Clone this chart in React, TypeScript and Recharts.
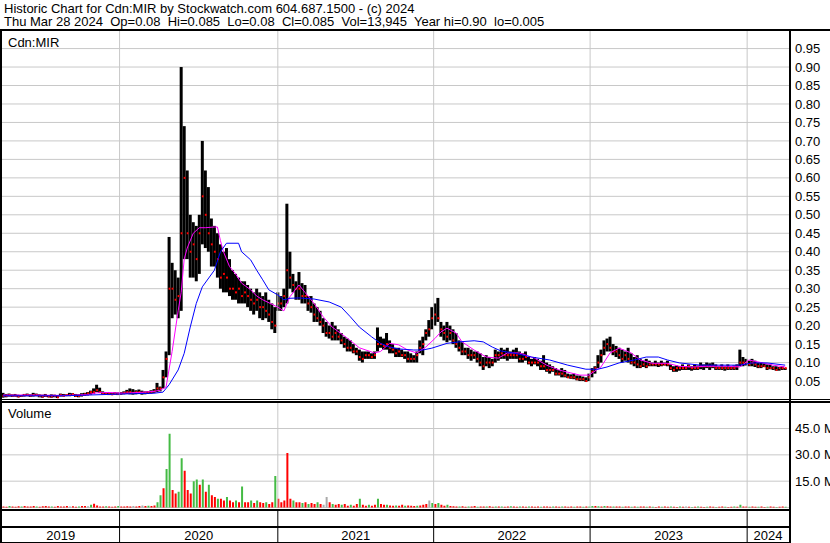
import React from 'react';
import { ComposedChart, Bar, Line, XAxis, YAxis, CartesianGrid, ReferenceLine, Cell } from 'recharts';

const FONT = 'Arial, "Liberation Sans", sans-serif';
const GRID = '#c8c8c8';
const GREEN = '#44bb44';
const RED = '#ff0000';
const GRAY = '#aaaaaa';

// x axis runs in weeks from the first bar (early Apr 2019) to Mar 28 2024
const years = ['2019', '2020', '2021', '2022', '2023', '2024'];
const yearStarts = [38.6, 91, 142.6, 194.4, 246.4];
const weekDomain: [number, number] = [-0.33, 260.26];
const yearEdges = [weekDomain[0], ...yearStarts, weekDomain[1]];
const yearMids = years.map((_, i) => (yearEdges[i] + yearEdges[i + 1]) / 2);

const priceTicks = [0.05, 0.1, 0.15, 0.2, 0.25, 0.3, 0.35, 0.4, 0.45, 0.5, 0.55, 0.6, 0.65, 0.7, 0.75, 0.8, 0.85, 0.9, 0.95];
const volumeTicks = [15, 30, 45];

// weekly high / low / close
const high = [
  0.018, 0.015, 0.016, 0.014, 0.015, 0.013, 0.012, 0.015, 0.016, 0.014,
  0.018, 0.016, 0.014, 0.013, 0.015, 0.012, 0.014, 0.013, 0.012, 0.016,
  0.015, 0.014, 0.018, 0.017, 0.015, 0.014, 0.017, 0.018, 0.02, 0.024,
  0.03, 0.04, 0.032, 0.022, 0.02, 0.019, 0.018, 0.02, 0.019, 0.02,
  0.022, 0.026, 0.03, 0.028, 0.025, 0.027, 0.024, 0.022, 0.023, 0.025,
  0.028, 0.045, 0.035, 0.08, 0.13, 0.44, 0.37, 0.35, 0.33, 0.9,
  0.74, 0.62, 0.5, 0.48, 0.47, 0.5, 0.7, 0.62, 0.575, 0.49,
  0.47, 0.45, 0.42, 0.4, 0.41, 0.38, 0.35, 0.34, 0.33, 0.32,
  0.32, 0.31, 0.3, 0.29, 0.3, 0.29, 0.28, 0.29, 0.27, 0.26,
  0.25, 0.29, 0.28, 0.3, 0.53, 0.4, 0.34, 0.32, 0.345, 0.315,
  0.31, 0.28, 0.28, 0.26, 0.25, 0.24, 0.22, 0.21, 0.2, 0.21,
  0.2, 0.19, 0.18, 0.17, 0.165, 0.16, 0.15, 0.14, 0.135, 0.13,
  0.13, 0.13, 0.125, 0.13, 0.195, 0.17, 0.165, 0.18, 0.16, 0.15,
  0.14, 0.14, 0.135, 0.13, 0.13, 0.125, 0.12, 0.13, 0.16, 0.17,
  0.19, 0.215, 0.25, 0.26, 0.275, 0.21, 0.2, 0.21, 0.2, 0.19,
  0.18, 0.16, 0.155, 0.14, 0.14, 0.135, 0.13, 0.13, 0.125, 0.115,
  0.12, 0.115, 0.11, 0.135, 0.13, 0.14, 0.135, 0.14, 0.13, 0.135,
  0.14, 0.13, 0.125, 0.13, 0.115, 0.11, 0.115, 0.11, 0.105, 0.12,
  0.1, 0.095, 0.09, 0.085, 0.08, 0.085, 0.08, 0.07, 0.068, 0.07,
  0.065, 0.065, 0.062, 0.06, 0.07, 0.085, 0.09, 0.12, 0.135, 0.16,
  0.165, 0.17, 0.15, 0.145, 0.14, 0.135, 0.13, 0.14, 0.125, 0.115,
  0.12, 0.11, 0.105, 0.11, 0.105, 0.1, 0.105, 0.1, 0.105, 0.1,
  0.105, 0.095, 0.09, 0.092, 0.09, 0.095, 0.09, 0.095, 0.09, 0.095,
  0.092, 0.1, 0.095, 0.1, 0.098, 0.1, 0.095, 0.09, 0.095, 0.09,
  0.095, 0.09, 0.092, 0.095, 0.135, 0.115, 0.11, 0.105, 0.11, 0.105,
  0.1, 0.1, 0.098, 0.095, 0.095, 0.09, 0.09, 0.088, 0.09, 0.085,
];

const low = [
  0.005, 0.006, 0.008, 0.007, 0.008, 0.006, 0.007, 0.008, 0.009, 0.007,
  0.008, 0.009, 0.006, 0.005, 0.007, 0.006, 0.005, 0.006, 0.004, 0.008,
  0.008, 0.009, 0.009, 0.01, 0.007, 0.006, 0.008, 0.01, 0.011, 0.013,
  0.015, 0.02, 0.018, 0.014, 0.013, 0.012, 0.012, 0.013, 0.012, 0.013,
  0.014, 0.015, 0.014, 0.013, 0.014, 0.015, 0.013, 0.014, 0.015, 0.016,
  0.018, 0.02, 0.022, 0.03, 0.06, 0.12, 0.22, 0.23, 0.22, 0.24,
  0.38, 0.38, 0.33, 0.33, 0.32, 0.34, 0.42, 0.41, 0.4, 0.36,
  0.36, 0.33, 0.3, 0.29, 0.29, 0.28, 0.27, 0.27, 0.26, 0.26,
  0.26, 0.25, 0.24, 0.23, 0.24, 0.22, 0.215, 0.22, 0.21, 0.19,
  0.18, 0.24, 0.24, 0.25, 0.26, 0.3, 0.29, 0.27, 0.27, 0.26,
  0.26, 0.24, 0.235, 0.21, 0.21, 0.2, 0.18, 0.17, 0.165, 0.16,
  0.16, 0.16, 0.15, 0.14, 0.13, 0.13, 0.125, 0.12, 0.105, 0.1,
  0.11, 0.11, 0.11, 0.11, 0.13, 0.14, 0.135, 0.135, 0.125, 0.125,
  0.115, 0.115, 0.115, 0.11, 0.1, 0.1, 0.1, 0.1, 0.125, 0.12,
  0.16, 0.17, 0.19, 0.2, 0.21, 0.17, 0.16, 0.155, 0.16, 0.15,
  0.14, 0.13, 0.12, 0.12, 0.11, 0.105, 0.11, 0.1, 0.09, 0.08,
  0.09, 0.085, 0.09, 0.1, 0.105, 0.11, 0.11, 0.105, 0.11, 0.11,
  0.11, 0.1, 0.1, 0.105, 0.095, 0.09, 0.095, 0.09, 0.08, 0.08,
  0.075, 0.07, 0.075, 0.065, 0.065, 0.06, 0.06, 0.058, 0.056, 0.055,
  0.052, 0.05, 0.05, 0.048, 0.05, 0.06, 0.07, 0.085, 0.1, 0.12,
  0.13, 0.13, 0.12, 0.115, 0.11, 0.1, 0.105, 0.1, 0.095, 0.09,
  0.085, 0.085, 0.088, 0.085, 0.09, 0.09, 0.09, 0.088, 0.09, 0.092,
  0.09, 0.08, 0.075, 0.075, 0.078, 0.08, 0.08, 0.08, 0.078, 0.08,
  0.08, 0.082, 0.08, 0.085, 0.08, 0.085, 0.08, 0.08, 0.08, 0.078,
  0.08, 0.08, 0.08, 0.08, 0.09, 0.09, 0.092, 0.09, 0.09, 0.088,
  0.085, 0.085, 0.088, 0.08, 0.082, 0.08, 0.078, 0.078, 0.08, 0.08,
];

const close = [
  0.01, 0.01, 0.012, 0.01, 0.01, 0.008, 0.01, 0.012, 0.012, 0.01,
  0.012, 0.012, 0.01, 0.008, 0.01, 0.008, 0.008, 0.01, 0.006, 0.012,
  0.01, 0.012, 0.012, 0.014, 0.01, 0.01, 0.012, 0.014, 0.016, 0.02,
  0.02, 0.025, 0.02, 0.016, 0.015, 0.015, 0.014, 0.016, 0.015, 0.016,
  0.018, 0.02, 0.02, 0.018, 0.02, 0.02, 0.018, 0.018, 0.02, 0.02,
  0.022, 0.03, 0.03, 0.06, 0.11, 0.3, 0.3, 0.27, 0.28, 0.45,
  0.6, 0.45, 0.4, 0.42, 0.38, 0.45, 0.55, 0.5, 0.45, 0.42,
  0.4, 0.38, 0.33, 0.34, 0.33, 0.3, 0.3, 0.29, 0.3, 0.28,
  0.29, 0.28, 0.27, 0.26, 0.27, 0.25, 0.25, 0.24, 0.23, 0.21,
  0.2, 0.26, 0.26, 0.28, 0.35, 0.33, 0.31, 0.3, 0.3, 0.28,
  0.28, 0.26, 0.25, 0.23, 0.22, 0.21, 0.2, 0.18, 0.18, 0.17,
  0.18, 0.17, 0.16, 0.15, 0.14, 0.14, 0.13, 0.13, 0.115, 0.11,
  0.12, 0.12, 0.115, 0.12, 0.15, 0.15, 0.145, 0.15, 0.14, 0.135,
  0.125, 0.13, 0.12, 0.12, 0.11, 0.11, 0.11, 0.12, 0.14, 0.15,
  0.18, 0.19, 0.22, 0.23, 0.22, 0.19, 0.18, 0.17, 0.18, 0.16,
  0.15, 0.14, 0.13, 0.13, 0.12, 0.12, 0.12, 0.11, 0.1, 0.09,
  0.1, 0.1, 0.1, 0.12, 0.12, 0.125, 0.12, 0.12, 0.12, 0.12,
  0.12, 0.11, 0.11, 0.115, 0.1, 0.1, 0.1, 0.1, 0.09, 0.09,
  0.08, 0.08, 0.08, 0.07, 0.07, 0.07, 0.065, 0.06, 0.06, 0.06,
  0.055, 0.055, 0.055, 0.05, 0.06, 0.075, 0.085, 0.1, 0.12, 0.14,
  0.15, 0.14, 0.13, 0.13, 0.12, 0.11, 0.12, 0.11, 0.1, 0.1,
  0.095, 0.09, 0.095, 0.09, 0.095, 0.095, 0.095, 0.095, 0.095, 0.095,
  0.095, 0.085, 0.08, 0.085, 0.085, 0.085, 0.085, 0.09, 0.085, 0.085,
  0.085, 0.09, 0.09, 0.09, 0.09, 0.09, 0.085, 0.085, 0.085, 0.085,
  0.085, 0.085, 0.085, 0.09, 0.1, 0.1, 0.1, 0.095, 0.1, 0.095,
  0.09, 0.09, 0.09, 0.085, 0.085, 0.085, 0.08, 0.085, 0.085, 0.085,
];

// peak daily volume in each week, millions
const volume = [
  0.6, 0.4, 0.8, 0.5, 0.4, 0.7, 0.5, 0.9, 0.6, 0.5,
  0.8, 0.6, 0.4, 0.7, 0.9, 0.5, 0.6, 0.4, 0.8, 0.5,
  0.6, 0.9, 0.5, 0.7, 0.4, 0.6, 0.8, 0.9, 0.7, 1.5,
  2.2, 1.2, 0.6, 0.5, 0.7, 0.5, 0.4, 0.6, 0.8, 0.5,
  0.6, 0.7, 0.5, 0.9, 0.6, 0.8, 1.2, 0.9, 1.0, 0.8,
  1.2, 3, 7, 11, 22, 42, 10, 8, 9, 28,
  21, 10, 8, 15, 16, 13, 16, 9, 13, 7,
  6, 5, 5, 4, 6, 4, 3, 4, 3, 12,
  3, 3, 4, 2.5, 4, 3, 2.5, 3, 2, 3,
  18, 5, 3, 4, 31, 5, 4, 3, 3, 2.5,
  3, 2, 2.5, 2, 3, 2, 1.5, 6, 3, 2,
  1.5, 2, 1.5, 2, 1, 1.5, 1, 2, 5, 1.5,
  1, 1.5, 1, 1.5, 5, 2, 1.5, 1.5, 1.2, 1,
  1.2, 1, 1.5, 1, 1.2, 1, 0.8, 1, 1.2, 1.5,
  2, 4, 2.5, 2, 2.5, 1.5, 1, 1.5, 0.8, 0.7,
  0.6, 0.5, 0.7, 0.4, 0.6, 0.5, 0.8, 0.4, 0.5, 0.6,
  0.5, 0.7, 0.4, 0.6, 0.5, 0.6, 0.4, 0.5, 0.7, 0.5,
  0.4, 0.6, 0.5, 0.4, 0.5, 0.6, 0.4, 0.5, 0.4, 0.6,
  0.5, 0.4, 0.6, 0.5, 0.4, 0.5, 0.6, 0.4, 0.5, 0.4,
  0.5, 0.6, 0.4, 0.5, 0.6, 0.8, 0.9, 0.7, 0.6, 0.8,
  0.7, 0.6, 0.5, 0.6, 0.5, 0.4, 0.6, 0.5, 0.4, 0.5,
  0.4, 0.5, 0.6, 0.4, 0.5, 0.4, 0.3, 0.5, 0.4, 0.5,
  0.4, 0.5, 0.4, 0.3, 0.5, 0.4, 0.5, 0.4, 0.3, 0.4,
  0.5, 0.4, 0.3, 0.4, 0.5, 0.4, 0.3, 0.4, 0.5, 0.4,
  0.3, 0.4, 0.5, 0.4, 1.5, 0.6, 0.5, 0.4, 0.5, 0.4,
  0.4, 0.5, 0.3, 0.4, 0.5, 0.4, 0.3, 0.4, 0.5, 0.4,
];

// colour of each weekly volume bar: r = down, g = up, n = unchanged
const volumeSide = (
  'rrgrrrgrrr rgrrrrgrrr rrnrrgrrng rrrrgrrrgr rrrnrrnrgr ' +
  'rggrggrrgg rrrggrgrgr rgrrgrrgrg rrgrgrrgrr grrrrrgrrg ' +
  'rgrrgrnnrg rrgrrgrrgr rgrrgrrgrr grrgrrrgrr rngrgrrgrr ' +
  'rgrrgrrgrr grrgrgrrgr rgrrgrrrgr rrgrrgrrrg rrgrggrgrg ' +
  'rrgrrgrrgr grrgrgrrgr rgrrgrnrgr grrgrrgrrg rrgrgrrgrr ' +
  'grrgrrgrrg'
).replace(/ /g, '');

// moving averages (magenta = short, blue = long), sampled by week
const fastMaWeeks = [0, 10, 20, 28, 31, 35, 40, 45, 50, 52, 54, 56, 58, 59, 60, 61, 63, 65, 67, 70, 71, 72, 73, 75, 77, 79, 82, 84, 86, 91, 93, 95, 98, 100, 103, 106, 109, 114, 118, 123, 125, 128, 131, 134, 137, 140, 143, 145, 147, 150, 152, 156, 160, 164, 167, 171, 176, 180, 184, 191, 194, 198, 201, 204, 208, 211, 215, 220, 224, 228, 233, 240, 244, 247, 251, 255, 259];
const fastMa = [0.012, 0.012, 0.011, 0.013, 0.018, 0.019, 0.017, 0.019, 0.022, 0.025, 0.034, 0.13, 0.24, 0.29, 0.38, 0.41, 0.45, 0.465, 0.465, 0.467, 0.467, 0.43, 0.4, 0.36, 0.34, 0.315, 0.297, 0.28, 0.27, 0.25, 0.24, 0.278, 0.31, 0.29, 0.26, 0.224, 0.196, 0.166, 0.14, 0.126, 0.13, 0.152, 0.148, 0.134, 0.126, 0.142, 0.165, 0.183, 0.193, 0.18, 0.156, 0.134, 0.115, 0.112, 0.126, 0.126, 0.112, 0.093, 0.08, 0.066, 0.066, 0.088, 0.126, 0.139, 0.126, 0.107, 0.098, 0.098, 0.09, 0.088, 0.09, 0.09, 0.088, 0.107, 0.1, 0.093, 0.088];

const slowMaWeeks = [0, 20, 40, 50, 53, 55, 58, 60, 62, 64, 66, 70, 72, 74, 78, 79, 82, 84, 86, 88, 91, 93, 95, 98, 103, 108, 112, 115, 118, 122, 125, 128, 131, 136, 139, 142, 147, 151, 156, 159, 162, 165, 169, 175, 181, 187, 193, 197, 200, 204, 209, 213, 217, 220, 224, 231, 237, 244, 248, 253, 259];
const slowMa = [0.01, 0.01, 0.015, 0.017, 0.02, 0.04, 0.08, 0.125, 0.196, 0.26, 0.305, 0.35, 0.4, 0.423, 0.423, 0.4, 0.378, 0.35, 0.324, 0.297, 0.283, 0.27, 0.274, 0.275, 0.272, 0.264, 0.25, 0.224, 0.196, 0.17, 0.152, 0.142, 0.137, 0.134, 0.134, 0.139, 0.152, 0.156, 0.159, 0.156, 0.142, 0.131, 0.126, 0.115, 0.107, 0.093, 0.082, 0.082, 0.088, 0.099, 0.107, 0.115, 0.115, 0.107, 0.099, 0.093, 0.093, 0.093, 0.099, 0.099, 0.093];

const sideColor: Record<string, string> = { r: RED, g: GREEN, n: GRAY };

const priceData = high.map((h, i) => ({ w: i, range: [low[i], h], close: close[i] }));
const volumeData = volume.map((v, i) => ({ w: i, vol: v, color: sideColor[volumeSide[i]] || RED }));
const fastData = fastMaWeeks.map((w, i) => ({ w, v: fastMa[i] }));
const slowData = slowMaWeeks.map((w, i) => ({ w, v: slowMa[i] }));

const PriceBar = (props: any) => {
  const { x, y, width, height, payload } = props;
  const top = Math.min(y, y + height);
  const h = Math.max(Math.abs(height), 1);
  const [lo, hi] = payload.range;
  const cy = hi === lo ? top : top + ((hi - payload.close) / (hi - lo)) * h;
  return (
    <g>
      <rect x={x} y={top} width={width} height={h} fill="#000" />
      <rect x={x + width - 2} y={cy - 1} width={2} height={2} fill={RED} />
    </g>
  );
};

const YearTick = (props: any) => {
  const { x, y, payload } = props;
  if (yearStarts.includes(payload.value)) {
    return <line x1={x} x2={x} y1={y + 3.5} y2={y + 35.5} stroke="#000" strokeWidth={1} />;
  }
  const idx = yearMids.indexOf(payload.value);
  return (
    <text x={x} y={y + 32} textAnchor="middle" fontSize={13} fontFamily={FONT} fill="#000">
      {years[idx]}
    </text>
  );
};

// plain svg text so labels like "45.0 M" run off the edge instead of wrapping
const makeRightTick = (fmt: (v: number) => string) => (props: any) => {
  const { x, y, payload } = props;
  return (
    <text x={x} y={y} dy={4.6} textAnchor="start" fontSize={13} fontFamily={FONT} fill="#000">
      {fmt(payload.value)}
    </text>
  );
};
const PriceTick = makeRightTick((v) => v.toFixed(2));
const VolumeTick = makeRightTick((v) => `${v.toFixed(1)} M`);

const line = (left: number, top: number, width: number, height: number) => (
  <div style={{ position: 'absolute', left, top, width, height, background: '#000' }} />
);

const App: React.FC = () => {
  return (
    <div style={{ position: 'absolute', left: 0, top: 0, width: 830, height: 543, background: '#fff', overflow: 'hidden', fontFamily: FONT, color: '#000' }}>
      <div style={{ position: 'absolute', left: 4, top: 1.5, fontSize: 13, lineHeight: '13px', whiteSpace: 'pre' }}>
        Historic Chart for Cdn:MIR by Stockwatch.com 604.687.1500 - (c) 2024
      </div>
      <div style={{ position: 'absolute', left: 4, top: 15, fontSize: 13, lineHeight: '13px', whiteSpace: 'pre' }}>
        {'Thu Mar 28 2024  Op=0.08  Hi=0.085  Lo=0.08  Cl=0.085  Vol=13,945  Year hi=0.90  lo=0.005'}
      </div>

      <div style={{ position: 'absolute', left: 0, top: 0 }}>
        <ComposedChart width={830} height={400} data={priceData} margin={{ top: 30.1, right: 0, bottom: 0.5, left: 2 }}>
          <CartesianGrid vertical={false} stroke={GRID} />
          <XAxis dataKey="w" type="number" domain={weekDomain} allowDataOverflow hide />
          <YAxis
            orientation="right"
            type="number"
            domain={[0, 1]}
            ticks={priceTicks}
            width={41}
            axisLine={false}
            tickLine={false}
            tickSize={0}
            tickMargin={6}
            tick={<PriceTick />}
            interval={0}
          />
          {yearStarts.map((w) => (
            <ReferenceLine key={w} x={w} stroke={GRID} />
          ))}
          <Bar dataKey="range" barSize={3} shape={PriceBar} isAnimationActive={false} />
          <Line data={fastData} dataKey="v" type="linear" stroke="#ff00ff" strokeWidth={1} dot={false} isAnimationActive={false} />
          <Line data={slowData} dataKey="v" type="linear" stroke="#0000ff" strokeWidth={1} dot={false} isAnimationActive={false} />
        </ComposedChart>
      </div>

      <div style={{ position: 'absolute', left: 0, top: 400 }}>
        <ComposedChart width={830} height={143} data={volumeData} margin={{ top: 2.2, right: 0, bottom: 0, left: 2 }}>
          <CartesianGrid vertical={false} stroke={GRID} />
          <XAxis
            dataKey="w"
            type="number"
            domain={weekDomain}
            allowDataOverflow
            ticks={[...yearStarts, ...yearMids]}
            interval={0}
            height={35.5}
            axisLine={false}
            tickLine={false}
            tickSize={0}
            tickMargin={0}
            tick={<YearTick />}
          />
          <YAxis
            orientation="right"
            type="number"
            domain={[0, 60]}
            ticks={volumeTicks}
            width={41}
            axisLine={false}
            tickLine={false}
            tickSize={0}
            tickMargin={6}
            tick={<VolumeTick />}
            interval={0}
          />
          {yearStarts.map((w) => (
            <ReferenceLine key={w} x={w} stroke={GRID} />
          ))}
          <Bar dataKey="vol" barSize={2} isAnimationActive={false}>
            {volumeData.map((d) => (
              <Cell key={d.w} fill={d.color} />
            ))}
          </Bar>
        </ComposedChart>
      </div>

      {line(0, 29, 830, 2)}
      {line(0, 29, 2, 514)}
      {line(789, 29, 2, 514)}
      {line(0, 399, 830, 1)}
      {line(0, 401, 830, 2)}
      {line(0, 509, 791, 2)}
      {line(0, 526, 791, 2)}
      {line(0, 542, 791, 1)}

      <div style={{ position: 'absolute', left: 8, top: 35.5, fontSize: 13, lineHeight: '13px' }}>Cdn:MIR</div>
      <div style={{ position: 'absolute', left: 8, top: 407, fontSize: 13, lineHeight: '13px' }}>Volume</div>
    </div>
  );
};

export default App;
